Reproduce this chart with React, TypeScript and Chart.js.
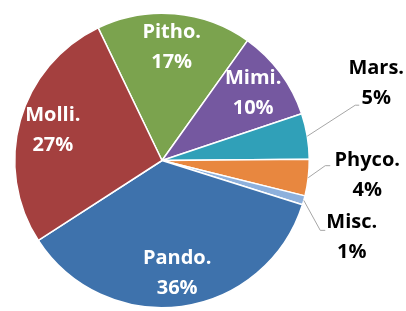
import React, { useEffect, useRef } from "react";
import { Chart, registerables } from "chart.js";

Chart.register(...registerables);

const labels = ["Pitho.", "Mimi.", "Mars.", "Phyco.", "Misc.", "Pando.", "Molli."];
const values = [17, 10, 5, 4, 1, 36, 27];
const pctLabels = ["17%", "10%", "5%", "4%", "1%", "36%", "27%"];
const colors = ["#7BA34E", "#7558A0", "#30A0B8", "#E8873F", "#8DB0DC", "#3E72AC", "#A4403F"];
const outside = [false, false, true, true, true, false, false];
// label offsets for outside labels relative to slice edge midpoint: [labelDx, labelDy, elbowDx, elbowDy, endDx, endDy]
const outsideLayout: Record<number, number[]> = {
  2: [69, -53, 48, -31, 52, -31],
  3: [59, -2, 17, -12, 22, -12],
  4: [48, 37, 16.5, 30, 21.5, 30],
};

const labelPlugin = {
  id: "sliceLabels",
  afterDatasetsDraw(chart: any) {
    const ctx = chart.ctx;
    const meta = chart.getDatasetMeta(0);
    ctx.save();
    ctx.font = "bold 20px 'Open Sans'";
    ctx.textAlign = "center";
    ctx.textBaseline = "middle";
    meta.data.forEach((arc: any, i: number) => {
      const { x, y, startAngle, endAngle, outerRadius } = arc.getProps(
        ["x", "y", "startAngle", "endAngle", "outerRadius"],
        true
      );
      const mid = (startAngle + endAngle) / 2;
      if (!outside[i]) {
        const r = outerRadius * 0.77;
        const cx = x + Math.cos(mid) * r;
        const cy = y + Math.sin(mid) * r;
        ctx.fillStyle = "#FFFFFF";
        ctx.fillText(labels[i], cx, cy - 15);
        ctx.fillText(pctLabels[i], cx, cy + 15);
      } else {
        const ax = x + Math.cos(mid) * outerRadius;
        const ay = y + Math.sin(mid) * outerRadius;
        const L = outsideLayout[i];
        ctx.strokeStyle = "#A6A6A6";
        ctx.lineWidth = 1;
        ctx.beginPath();
        ctx.moveTo(ax, ay);
        ctx.lineTo(ax + L[2], ay + L[3]);
        ctx.lineTo(ax + L[4], ay + L[5]);
        ctx.stroke();
        const cx = ax + L[0];
        const cy = ay + L[1];
        ctx.fillStyle = "#000000";
        ctx.fillText(labels[i], cx, cy - 15);
        ctx.fillText(pctLabels[i], cx, cy + 15);
      }
    });
    ctx.restore();
  },
};

export default function App() {
  const ref = useRef<HTMLCanvasElement>(null);
  useEffect(() => {
    document.body.style.margin = "0";
    const chart = new Chart(ref.current!, {
      type: "pie",
      data: {
        labels,
        datasets: [
          {
            data: values,
            backgroundColor: colors,
            borderColor: "#FFFFFF",
            borderWidth: 1.5,
          },
        ],
      },
      options: {
        responsive: false,
        animation: false,
        rotation: -25.7,
        layout: { padding: { left: 14, right: 96, top: 12, bottom: 2 } },
        plugins: {
          legend: { display: false },
          tooltip: { enabled: false },
        },
      },
      plugins: [labelPlugin],
    });
    return () => chart.destroy();
  }, []);
  return (
    <div style={{ position: "absolute", left: 0, top: 0, width: 406, height: 311, background: "#fff" }}>
      <canvas ref={ref} width={406} height={311} />
    </div>
  );
}
